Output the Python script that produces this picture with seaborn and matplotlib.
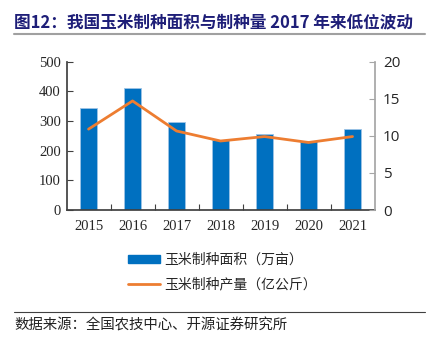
import matplotlib
matplotlib.use("Agg")
import matplotlib.pyplot as plt
import seaborn as sns
import pandas as pd
import numpy as np
from matplotlib.patches import Patch
from matplotlib.lines import Line2D

years = ["2015", "2016", "2017", "2018", "2019", "2020", "2021"]
area = [343, 410, 296, 237, 255, 234, 272]        # 万亩
output = [10.9, 14.7, 10.65, 9.3, 9.9, 9.1, 9.9]  # 亿公斤
left_ticks = [0, 100, 200, 300, 400, 500]
right_ticks = [0, 5, 10, 15, 20]

title = "图12：我国玉米制种面积与制种量 2017 年来低位波动"
area_label = "玉米制种面积（万亩）"
output_label = "玉米制种产量（亿公斤）"
source = "数据来源：全国农技中心、开源证券研究所"

sns.set_theme(style="white")
plt.rcParams["font.family"] = ["Noto Sans CJK SC", "DejaVu Sans"]

BLUE = "#0070C0"
ORANGE = "#ED7D31"
NAVY = "#1E1E78"

df = pd.DataFrame({"year": years, "area": area, "output": output})

fig = plt.figure(figsize=(4.35, 3.46), dpi=100)
ax = fig.add_axes([0.153, 0.393, 0.708, 0.429])

sns.barplot(data=df, x="year", y="area", color=BLUE, width=0.39,
            saturation=1, edgecolor="#9DC3E6", linewidth=0.6, ax=ax)
ax.set_xlim(-0.5, len(years) - 0.5)
ax.set_ylim(0, 500)
ax.set_yticks(left_ticks)
ax.set_xlabel("")
ax.set_ylabel("")

ax2 = ax.twinx()
sns.lineplot(x=np.arange(len(years)), y=output, color=ORANGE, linewidth=2,
             ax=ax2, legend=False)
ax2.set_ylim(0, 20)
ax2.set_yticks(right_ticks)
ax2.set_xlim(-0.5, len(years) - 0.5)

# Spines and ticks
for a in (ax, ax2):
    a.spines["top"].set_visible(False)
ax.spines["right"].set_visible(False)
ax.spines["left"].set_color("#404040")
ax.spines["bottom"].set_color("#404040")
ax2.spines["left"].set_visible(False)
ax2.spines["bottom"].set_visible(False)
ax2.spines["right"].set_color("#A6A6A6")

serif = ["Liberation Serif", "DejaVu Serif"]
ax.tick_params(axis="y", direction="in", length=4, width=0.8, color="#404040",
               left=True, labelsize=10.5, pad=4)
for lbl in ax.get_yticklabels():
    lbl.set_family(serif)
ax.set_xticks(np.arange(len(years)))
ax.set_xticklabels(years, family=serif, fontsize=10.5)
ax.set_xticks(np.arange(len(years) - 1) + 0.5, minor=True)
ax.tick_params(axis="x", which="major", length=0, pad=7)
ax.tick_params(axis="x", which="minor", direction="in", length=4, width=0.8,
               color="#404040", bottom=True)

ax2.tick_params(axis="y", direction="in", length=4, width=0.8, color="#A6A6A6",
                right=True, labelsize=11, pad=6)
for lbl in ax2.get_yticklabels():
    lbl.set_family(["Open Sans", "DejaVu Sans"])
ax2.set_ylabel("")

# Legend
handles = [Patch(facecolor=BLUE, edgecolor=BLUE),
           Line2D([0], [0], color=ORANGE, linewidth=2)]
fig.legend(handles, [area_label, output_label], loc="upper left",
           bbox_to_anchor=(0.265, 0.305), frameon=False,
           handlelength=2.3, handleheight=0.6, handletextpad=0.35,
           labelspacing=0.75,
           prop={"family": ["Noto Sans CJK SC"], "size": 10})

# Title, rules and source
fig.text(0.033, 0.935, title, fontsize=12, fontweight="bold", color=NAVY,
         va="center", ha="left")
fig.add_artist(Line2D([0.032, 0.978], [0.902, 0.902], color="#A0A0A0",
                      linewidth=1.5, transform=fig.transFigure))
fig.add_artist(Line2D([0.032, 0.978], [0.099, 0.099], color="#404040",
                      linewidth=0.8, transform=fig.transFigure))
fig.text(0.033, 0.058, source, fontsize=10.4, color="#222222", va="center",
         ha="left")

fig.savefig("out.png", dpi=100)
